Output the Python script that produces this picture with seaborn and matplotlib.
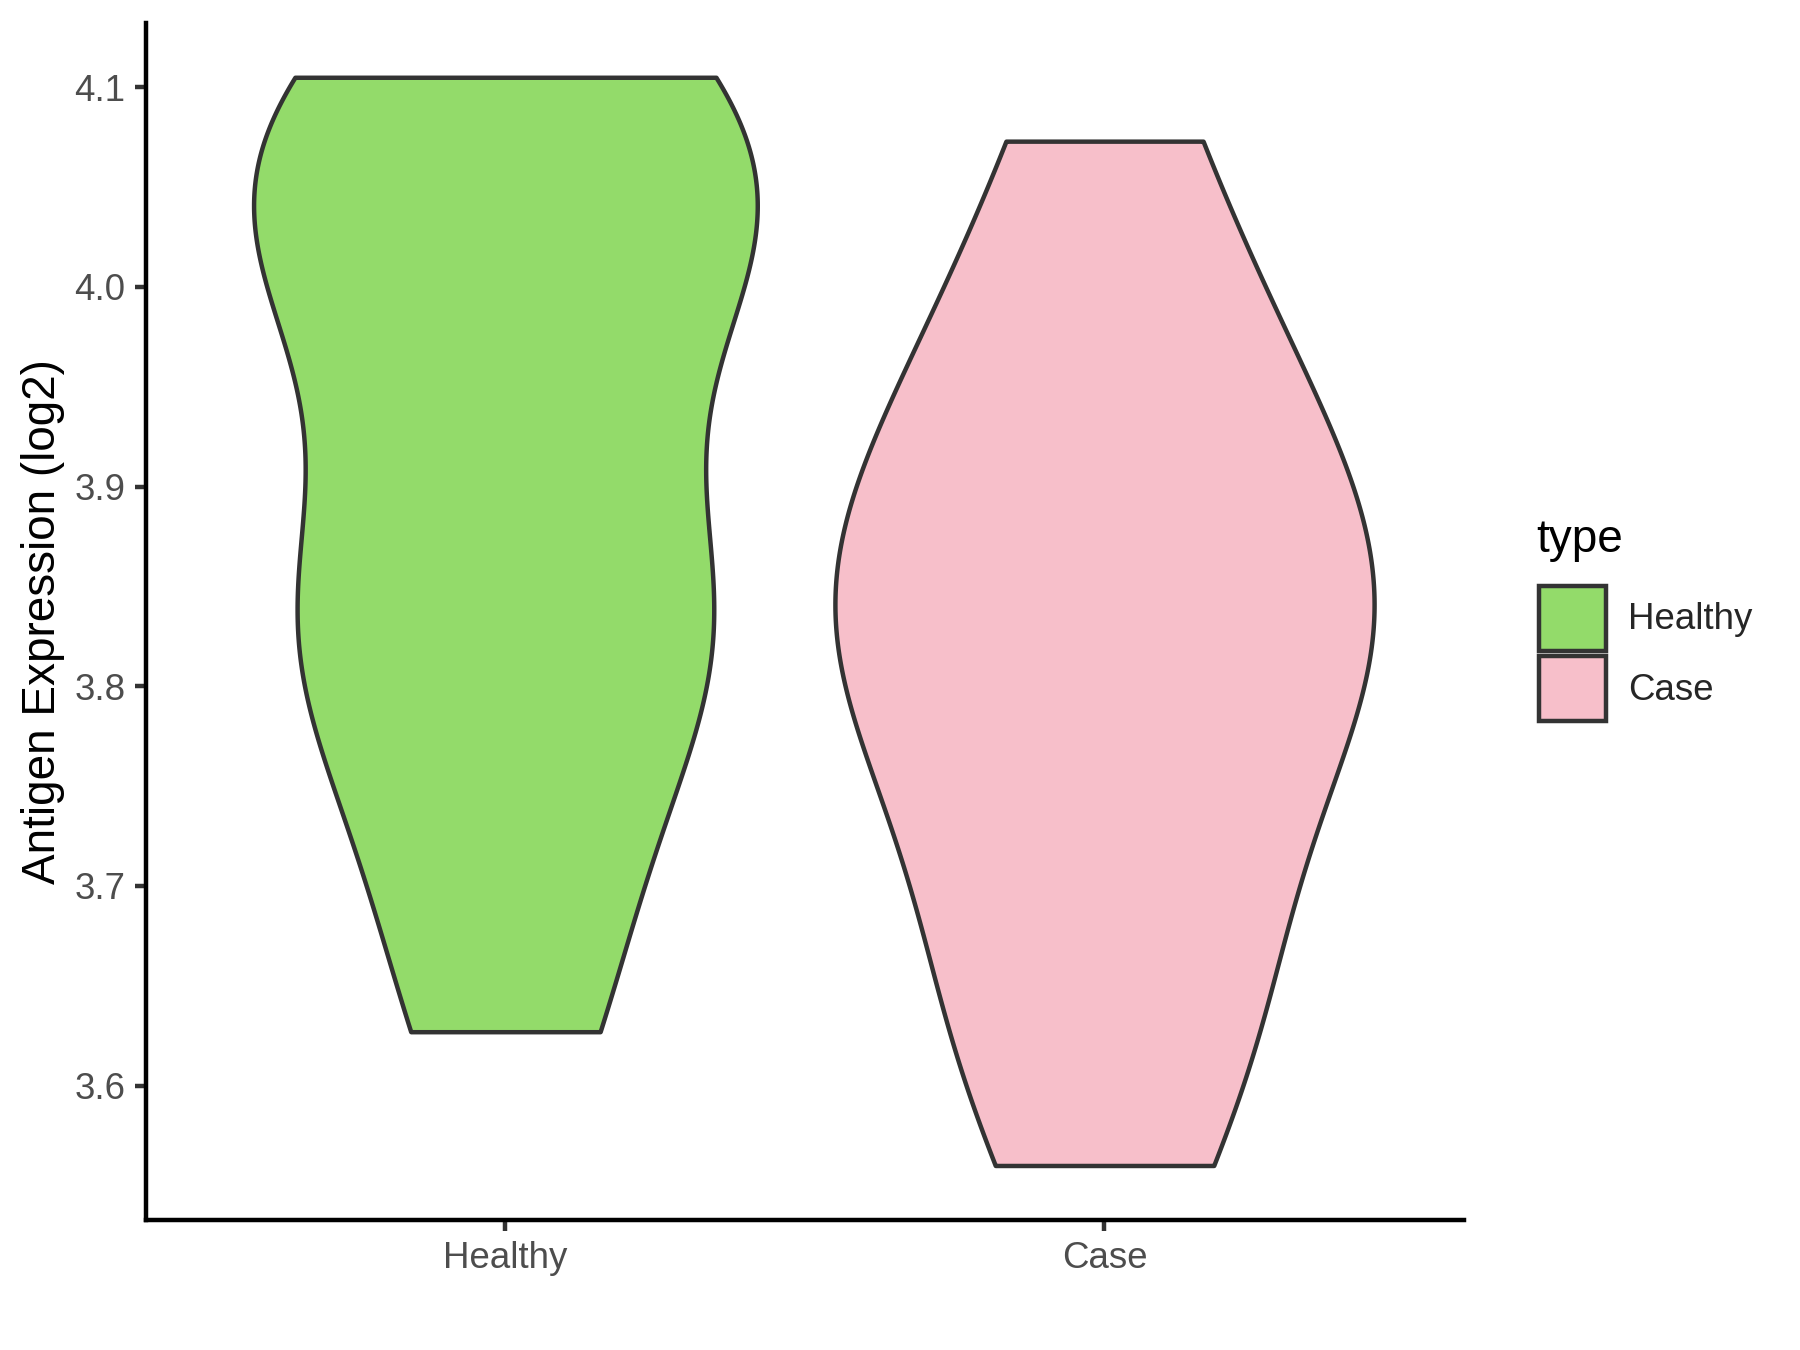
import numpy as np
import pandas as pd
import matplotlib
matplotlib.use("Agg")
import matplotlib.pyplot as plt
from matplotlib.patches import Patch
import seaborn as sns

# ---- data (estimated from the violin outlines in the picture) ----
categories = ["Healthy", "Case"]
healthy_values = [3.627, 3.718, 3.835, 3.835, 3.836, 4.001, 4.012, 4.043, 4.098, 4.105]
case_values = [3.560, 3.645, 3.686, 3.788, 3.817, 3.839, 3.853, 3.949, 3.951, 4.073]
colors = {"Healthy": "#93DB6A", "Case": "#F7BFCA"}
y_ticks = [3.6, 3.7, 3.8, 3.9, 4.0, 4.1]

df = pd.DataFrame({
    "type": ["Healthy"] * len(healthy_values) + ["Case"] * len(case_values),
    "value": healthy_values + case_values,
})


def nrd0(kde):
    # R's default bandwidth rule (bw.nrd0), expressed as a factor of the sample sd
    x = np.asarray(kde.dataset).ravel()
    n = x.size
    sd = np.std(x, ddof=1)
    q75, q25 = np.percentile(x, [75, 25])
    lo = min(sd, (q75 - q25) / 1.34)
    return 0.9 * lo * n ** -0.2 / sd


sns.set_style("white")
plt.rcParams["font.family"] = ["Liberation Sans", "DejaVu Sans"]

fig = plt.figure(figsize=(6, 4.5), dpi=300)
ax = fig.add_axes([0.0811, 0.0963, 0.8133 - 0.0811, 0.983 - 0.0963])

edge = "#333333"
lw = 1.07
sns.violinplot(data=df, x="type", y="value", hue="type", order=categories,
               hue_order=categories, palette=colors, inner=None, cut=0,
               density_norm="area", common_norm=True, dodge=False,
               width=0.9, saturation=1, linewidth=lw, linecolor=edge,
               bw_method=nrd0, gridsize=512, legend=False, ax=ax)

ax.set_xlim(-0.6, 1.6)
ax.set_ylim(3.5327, 4.1322)
ax.set_yticks(y_ticks)
ax.set_yticklabels([f"{t:.1f}" for t in y_ticks])
ax.set_xlabel("")
ax.set_ylabel("Antigen Expression (log2)", fontsize=11, color="black", labelpad=2.2)
for s in ["top", "right"]:
    ax.spines[s].set_visible(False)
for s in ["left", "bottom"]:
    ax.spines[s].set_color("black")
    ax.spines[s].set_linewidth(lw)
ax.tick_params(axis="both", colors=edge, length=2.75, width=lw, labelsize=8.8,
               labelcolor="#4D4D4D", pad=2.2, left=True, bottom=True)

handles = [Patch(facecolor=colors[c], edgecolor=edge, linewidth=lw, label=c) for c in categories]
leg = fig.legend(handles=handles, loc="center left",
                 bbox_to_anchor=(0.845, 0.5159), frameon=False, fontsize=8.8,
                 handlelength=1.82, handleheight=2.35,
                 labelspacing=0.16, handletextpad=0.6, borderpad=0)
fig.text(0.8533, 0.6003, "type", fontsize=11, color="black", ha="left", va="center")

fig.savefig("out.png", dpi=300)
